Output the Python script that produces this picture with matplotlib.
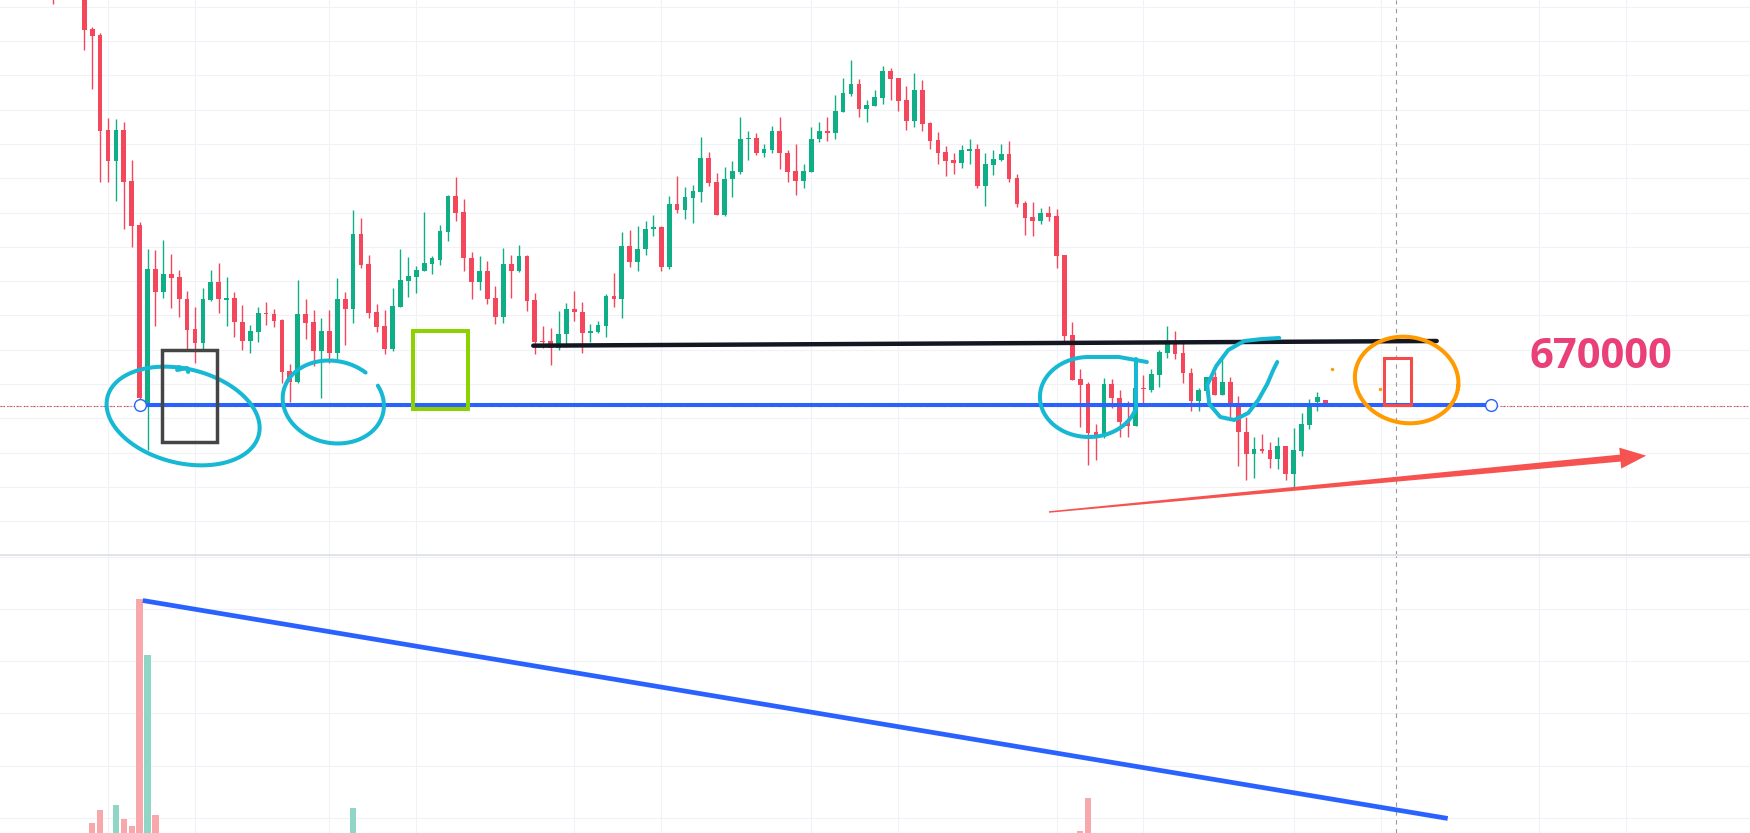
import numpy as np
import matplotlib
matplotlib.use("Agg")
import matplotlib.pyplot as plt
from matplotlib.patches import Rectangle, Polygon

# daily candles (KRW)
opens = [
    802000, 794500, 799000, 793900, 797500, 782800, 781000, 752500, 743200, 752500,
    737200, 724000, 670600, 710800, 703900, 709300, 708400, 701800, 692800, 688600,
    701500, 706900, 701500, 702100, 694900, 689200, 691900, 697600, 697300, 695500,
    680200, 676900, 697300, 694900, 686200, 692200, 685600, 701800, 698800, 721300,
    712300, 697900, 693700, 686800, 699400, 707200, 708400, 710200, 712300, 713500,
    721900, 732700, 727900, 714100, 706900, 710200, 702100, 696400, 712300, 710200,
    714700, 701500, 689200, 689200, 687100, 691300, 698800, 697900, 691600, 691900,
    693700, 702700, 701800, 717700, 712900, 716800, 722800, 723400, 711400, 730300,
    728500, 732100, 733900, 744100, 736900, 727000, 737800, 739900, 749800, 750100,
    745600, 746500, 752200, 745600, 740200, 737200, 739900, 749800, 752200, 751600,
    757900, 763300, 766300, 758800, 759700, 762100, 770200, 768100, 761500, 755200,
    764500, 754600, 749500, 745900, 743500, 742600, 746200, 746800, 735700, 742000,
    743500, 745300, 738100, 730600, 726400, 725200, 727600, 726700, 715000, 691000,
    677800, 676300, 661900, 660400, 676300, 672100, 665200, 663700, 675100, 674500,
    679000, 685600, 688900, 685600, 679600, 671200, 674200, 678400, 673000, 676900,
    670000, 661900, 655300, 656800, 656500, 653800, 657700, 649300, 656200, 664000,
    670900, 671500,
]
highs = [
    803500, 800500, 799900, 798100, 798700, 783400, 781600, 756100, 755800, 754900,
    743500, 724900, 716800, 716500, 719500, 715300, 710500, 704200, 699400, 705100,
    710500, 712600, 708400, 703900, 700000, 694000, 699400, 700900, 698800, 695800,
    682300, 707500, 701800, 698500, 696100, 698500, 708100, 703900, 728500, 726100,
    715000, 700300, 698500, 705100, 716800, 714400, 711700, 727900, 714700, 724000,
    733000, 738400, 731800, 715900, 714700, 713200, 705700, 717100, 715000, 718000,
    715000, 703600, 693700, 693100, 698200, 700600, 704200, 700900, 694300, 695200,
    703300, 709600, 721900, 722500, 723700, 725200, 727000, 723700, 732700, 738700,
    735400, 736000, 750400, 745900, 739600, 741400, 743200, 756400, 752200, 751600,
    748300, 753700, 756400, 746500, 748300, 742300, 753400, 754900, 756400, 763000,
    768100, 773500, 767800, 761500, 764500, 771700, 771100, 768100, 765700, 769600,
    767500, 754900, 751900, 747700, 745600, 748000, 749800, 748300, 745600, 746500,
    748300, 749200, 739300, 731200, 730900, 729100, 729700, 728800, 715000, 694900,
    680800, 676900, 664300, 678100, 677800, 674500, 671200, 678100, 679000, 680800,
    686500, 693700, 692200, 689500, 681100, 675100, 678400, 679900, 685000, 678400,
    672700, 666400, 660400, 661300, 658900, 660400, 657700, 663100, 667600, 671800,
    673800, 671500,
]
lows = [
    790300, 793000, 792400, 792100, 776500, 764800, 736900, 736900, 731200, 722800,
    717400, 671500, 656500, 693700, 702100, 699100, 696400, 686800, 682600, 686800,
    701200, 697600, 693700, 690400, 686500, 685600, 688900, 694000, 693400, 676600,
    670900, 676600, 689800, 681700, 672100, 682600, 683800, 688000, 694600, 711100,
    696100, 691900, 685300, 686200, 699400, 702400, 703600, 710200, 709300, 712000,
    719200, 725200, 710200, 701800, 704500, 700300, 694300, 694600, 702100, 709900,
    698200, 685300, 687100, 682000, 686500, 687400, 695200, 685600, 688900, 691600,
    690400, 699400, 696100, 711400, 710200, 715000, 720700, 710200, 710800, 727600,
    725800, 724600, 730900, 735700, 727000, 726700, 732400, 739300, 743500, 745000,
    744400, 745600, 740800, 736900, 733000, 735100, 739900, 748900, 749200, 749800,
    757900, 762700, 756400, 754900, 759700, 760300, 761500, 758200, 752500, 753400,
    752200, 746800, 742300, 738700, 739300, 741100, 742300, 735100, 729700, 739000,
    743200, 736900, 729400, 721000, 720700, 724300, 725200, 711100, 688600, 677500,
    663400, 652000, 653500, 660100, 669100, 660400, 660400, 663700, 670600, 673900,
    675400, 684100, 683800, 676600, 668200, 668200, 673900, 673000, 673000, 666400,
    651700, 647500, 648100, 655600, 651100, 650800, 647500, 645400, 654700, 662800,
    668200, 670600,
]
closes = [
    794500, 799000, 793900, 797500, 782500, 780700, 752200, 743200, 752500, 736900,
    723700, 672100, 710800, 703900, 709300, 708100, 701800, 692500, 688600, 701800,
    706900, 701800, 702100, 694900, 689200, 692200, 697600, 697300, 695200, 679900,
    676900, 697300, 694600, 686200, 692200, 685600, 701800, 698800, 721300, 712000,
    697600, 693400, 686800, 699700, 707500, 708700, 710500, 712600, 714100, 722200,
    732700, 727600, 714100, 706900, 710200, 701800, 696400, 712300, 710200, 714700,
    701200, 688900, 688900, 687100, 691300, 698800, 697900, 691600, 692200, 694000,
    702700, 701800, 717700, 712900, 716800, 722800, 723400, 711400, 730300, 728500,
    732400, 734200, 744100, 736600, 727000, 737800, 740200, 749800, 750100, 745600,
    746800, 752200, 745600, 739900, 737200, 740200, 749800, 752200, 751600, 758200,
    763600, 766300, 758800, 760000, 762400, 770200, 767800, 761200, 755200, 764500,
    754300, 749200, 745600, 743200, 742600, 746500, 746800, 735700, 742300, 743800,
    745300, 737800, 730300, 726100, 725200, 727600, 726400, 714700, 690700, 677500,
    676000, 661600, 660700, 676300, 672100, 664900, 663700, 675100, 674800, 679300,
    685900, 688900, 685300, 679600, 671200, 674500, 678400, 673000, 676900, 670300,
    661900, 655300, 656800, 656200, 653800, 657700, 649300, 656500, 664300, 669700,
    672400, 670600,
]
volumes = [
    120000, 110000, 95000, 130000, 125000, 179000, 230000, 135000, 249000, 195000,
    169000, 1038000, 824000, 211000, 120000, 90000, 85000, 110000, 98000, 125000,
    70000, 80000, 65000, 90000, 95000, 60000, 75000, 55000, 50000, 115000,
    105000, 128000, 85000, 95000, 110000, 90000, 118000, 70000, 238000, 122000,
    115000, 85000, 100000, 105000, 112000, 70000, 60000, 95000, 55000, 88000,
    120000, 90000, 110000, 85000, 65000, 80000, 78000, 118000, 72000, 68000,
    100000, 105000, 50000, 75000, 82000, 90000, 60000, 85000, 45000, 42000,
    95000, 70000, 125000, 88000, 92000, 80000, 55000, 98000, 120000, 85000,
    75000, 70000, 118000, 90000, 95000, 100000, 72000, 122000, 60000, 68000,
    50000, 85000, 100000, 80000, 92000, 62000, 105000, 58000, 64000, 110000,
    115000, 124000, 98000, 70000, 66000, 112000, 88000, 92000, 96000, 118000,
    102000, 85000, 80000, 76000, 55000, 72000, 60000, 108000, 94000, 62000,
    58000, 90000, 100000, 95000, 70000, 52000, 48000, 112000, 138000, 132000,
    149000, 277000, 120000, 130000, 85000, 92000, 80000, 110000, 70000, 76000,
    98000, 115000, 88000, 92000, 104000, 74000, 62000, 70000, 90000, 96000,
    125000, 118000, 84000, 60000, 76000, 82000, 105000, 120000, 112000, 98000,
    70000, 45000,
]

# time grid (bar index of each vertical grid line) and cursor bar
grid_bars = [7, 18, 35, 46, 66, 77, 96, 107, 127, 138, 157, 168, 188, 199]
cursor_bar = 170

level_price = 670000
level_label = "670000"
level_start, level_end = 11, 182
resistance = [(60.8, 687800), (175.1, 689200)]
volume_trend = [(11.7, 1031000), (176.2, 199000)]
trend_arrow = [(126.05, 637900), (201.6, 654800)]

GREEN = "#0fae87"
RED = "#f5475c"
VOL_GREEN = "#8fd6c6"
VOL_RED = "#f8a7aa"
GRID = "#f0f2f7"
BLUE = "#2962ff"
CYAN = "#16b8d4"


def hand_loop(ax, center, rx, ry, angle, t0, t1, color, lw=2.9):
    cx, cy = ax.transData.transform(center)
    t = np.radians(np.linspace(t0, t1, 300))
    a = np.radians(angle)
    ex, ey = rx * np.cos(t), ry * np.sin(t)
    pts = np.column_stack([cx + ex * np.cos(a) - ey * np.sin(a),
                           cy + ex * np.sin(a) + ey * np.cos(a)])
    d = ax.transData.inverted().transform(pts)
    ax.plot(d[:, 0], d[:, 1], color=color, lw=lw, solid_capstyle="round",
            solid_joinstyle="round", zorder=6)


def hand_stroke(ax, center, offsets, color, lw=2.9):
    cx, cy = ax.transData.transform(center)
    pts = np.array([(cx + dx, cy + dy) for dx, dy in offsets])
    d = ax.transData.inverted().transform(pts)
    ax.plot(d[:, 0], d[:, 1], color=color, lw=lw, solid_capstyle="round",
            solid_joinstyle="round", zorder=6)


def taper_arrow(ax, start, tip, w0, w1, head_len, head_w, color):
    p0 = ax.transData.transform(start)
    p1 = ax.transData.transform(tip)
    u = (p1 - p0) / np.hypot(*(p1 - p0))
    n = np.array([-u[1], u[0]])
    base = p1 - u * head_len
    poly = [p0 + n * w0 / 2, base + n * w1 / 2, base + n * head_w / 2, p1,
            base - n * head_w / 2, base - n * w1 / 2, p0 - n * w0 / 2]
    ax.add_patch(Polygon(ax.transData.inverted().transform(poly), closed=True,
                         facecolor=color, lw=0, zorder=6))


def style_pane(ax):
    for s in ax.spines.values():
        s.set_visible(False)
    ax.set_xticks(grid_bars)
    ax.tick_params(length=0, labelbottom=False, labelleft=False)
    ax.grid(True, color=GRID, lw=0.8)
    ax.set_axisbelow(True)
    ax.set_xlim(-6.668, 214.74)


def draw_candles(ax):
    o, h, l, c = map(np.array, (opens, highs, lows, closes))
    x = np.arange(len(o))
    colors = np.where(c >= o, GREEN, RED)
    ax.vlines(x, l, h, colors=colors, lw=1.0, zorder=3)
    ax.bar(x, np.maximum(np.abs(c - o), 300), bottom=np.minimum(o, c), width=0.6,
           color=colors, lw=0, zorder=4)


def draw_annotations(ax):
    ax.axhline(level_price - 400, color="#b2b5be", lw=0.8, dashes=(4, 3), zorder=2)
    ax.axhline(level_price - 400, color="#f23645", lw=0.8, dashes=(1, 2), zorder=2)
    ax.plot([level_start, level_end], [level_price, level_price], color=BLUE, lw=2.9, zorder=5)
    ax.plot([level_start, level_end], [level_price, level_price], ls="none", marker="o",
            ms=8.5, mfc="white", mec=BLUE, mew=1.0, zorder=7)

    (x0, y0), (x1, y1) = resistance
    ax.plot([x0, x1], [y0, y1], color="#131722", lw=3.2, solid_capstyle="round", zorder=5)

    # hand drawn marks
    hand_loop(ax, (16.5, 666700), 78, 47, -14, 100, 462, CYAN)
    hand_stroke(ax, (16.5, 666700), [(-6, 46), (4, 48), (5, 44)], CYAN)
    hand_loop(ax, (35.5, 670900), 51, 41, -12, 60, 398, CYAN)
    # third loop: closed on the right by a straight stroke, with a "T" on top
    hand_loop(ax, (131.1, 672400), 49, 40, 0, 90, 345, CYAN)
    hand_stroke(ax, (131.1, 672400), [(47, -12), (47, 38)], CYAN)
    hand_stroke(ax, (131.1, 672400), [(0, 40), (30, 40), (58, 35)], CYAN)
    # open loop near the second retest
    hand_stroke(ax, (150.5, 677500),
                [(37, 42), (20, 41), (2, 39), (-14, 30), (-26, 14), (-35, -5), (-33, -24),
                 (-22, -37), (-8, -40), (6, -33), (16, -20), (25, -4), (31, 10), (35, 18)],
                CYAN)
    hand_loop(ax, (171.3, 677500), 52, 43, -10, 0, 365, "#ff9a00")

    ax.add_patch(Rectangle((13.83, 658900), 6.96, 27600, fill=False, ec="#454545",
                           lw=2.5, zorder=6))
    ax.add_patch(Rectangle((45.6, 668700), 6.9, 23500, fill=False, ec="#8ed100",
                           lw=2.9, zorder=6))
    ax.add_patch(Rectangle((168.4, 670000), 3.45, 14100, fill=False, ec="#f44b4b",
                           lw=2.2, zorder=6))
    ax.scatter([161.85, 167.9], [680800, 674800], s=6, color="#ff9a00", lw=0, zorder=6)

    taper_arrow(ax, trend_arrow[0], trend_arrow[1], 1.5, 7, 26, 21, "#f6524f")
    ax.text(195.9, 684100, level_label, color="#e9407a", fontsize=30, fontweight="bold",
            family=["Open Sans", "DejaVu Sans"], ha="center", va="center", zorder=7)


def plot_chart():
    fig = plt.figure(figsize=(17.5, 8.33), dpi=100)
    fig.patch.set_facecolor("white")
    ax = fig.add_axes([0, 1 - 555 / 833, 1, 555 / 833])
    vax = fig.add_axes([0, 0, 1, 277 / 833])

    style_pane(ax)
    ax.set_ylim(625000, 791500)
    ax.set_yticks(np.arange(789490, 625000, -10290))
    ax.spines["bottom"].set_visible(True)
    ax.spines["bottom"].set_color("#dfe2ea")
    ax.spines["bottom"].set_linewidth(2.0)

    style_pane(vax)
    vax.set_ylim(141760, 1203070)
    vax.set_yticks(np.arange(200000, 1200001, 200000))

    draw_candles(ax)
    x = np.arange(len(volumes))
    vcolors = np.where(np.array(closes) >= np.array(opens), VOL_GREEN, VOL_RED)
    vax.bar(x, volumes, width=0.8, color=vcolors, lw=0, zorder=3)

    for a in (ax, vax):
        a.axvline(cursor_bar, color="#9598a1", lw=0.8, dashes=(4, 4), zorder=2)

    draw_annotations(ax)
    (vx0, vy0), (vx1, vy1) = volume_trend
    vax.plot([vx0, vx1], [vy0, vy1], color=BLUE, lw=3.4, zorder=5)

    fig.savefig("out.png", dpi=100, facecolor="white")


plot_chart()
